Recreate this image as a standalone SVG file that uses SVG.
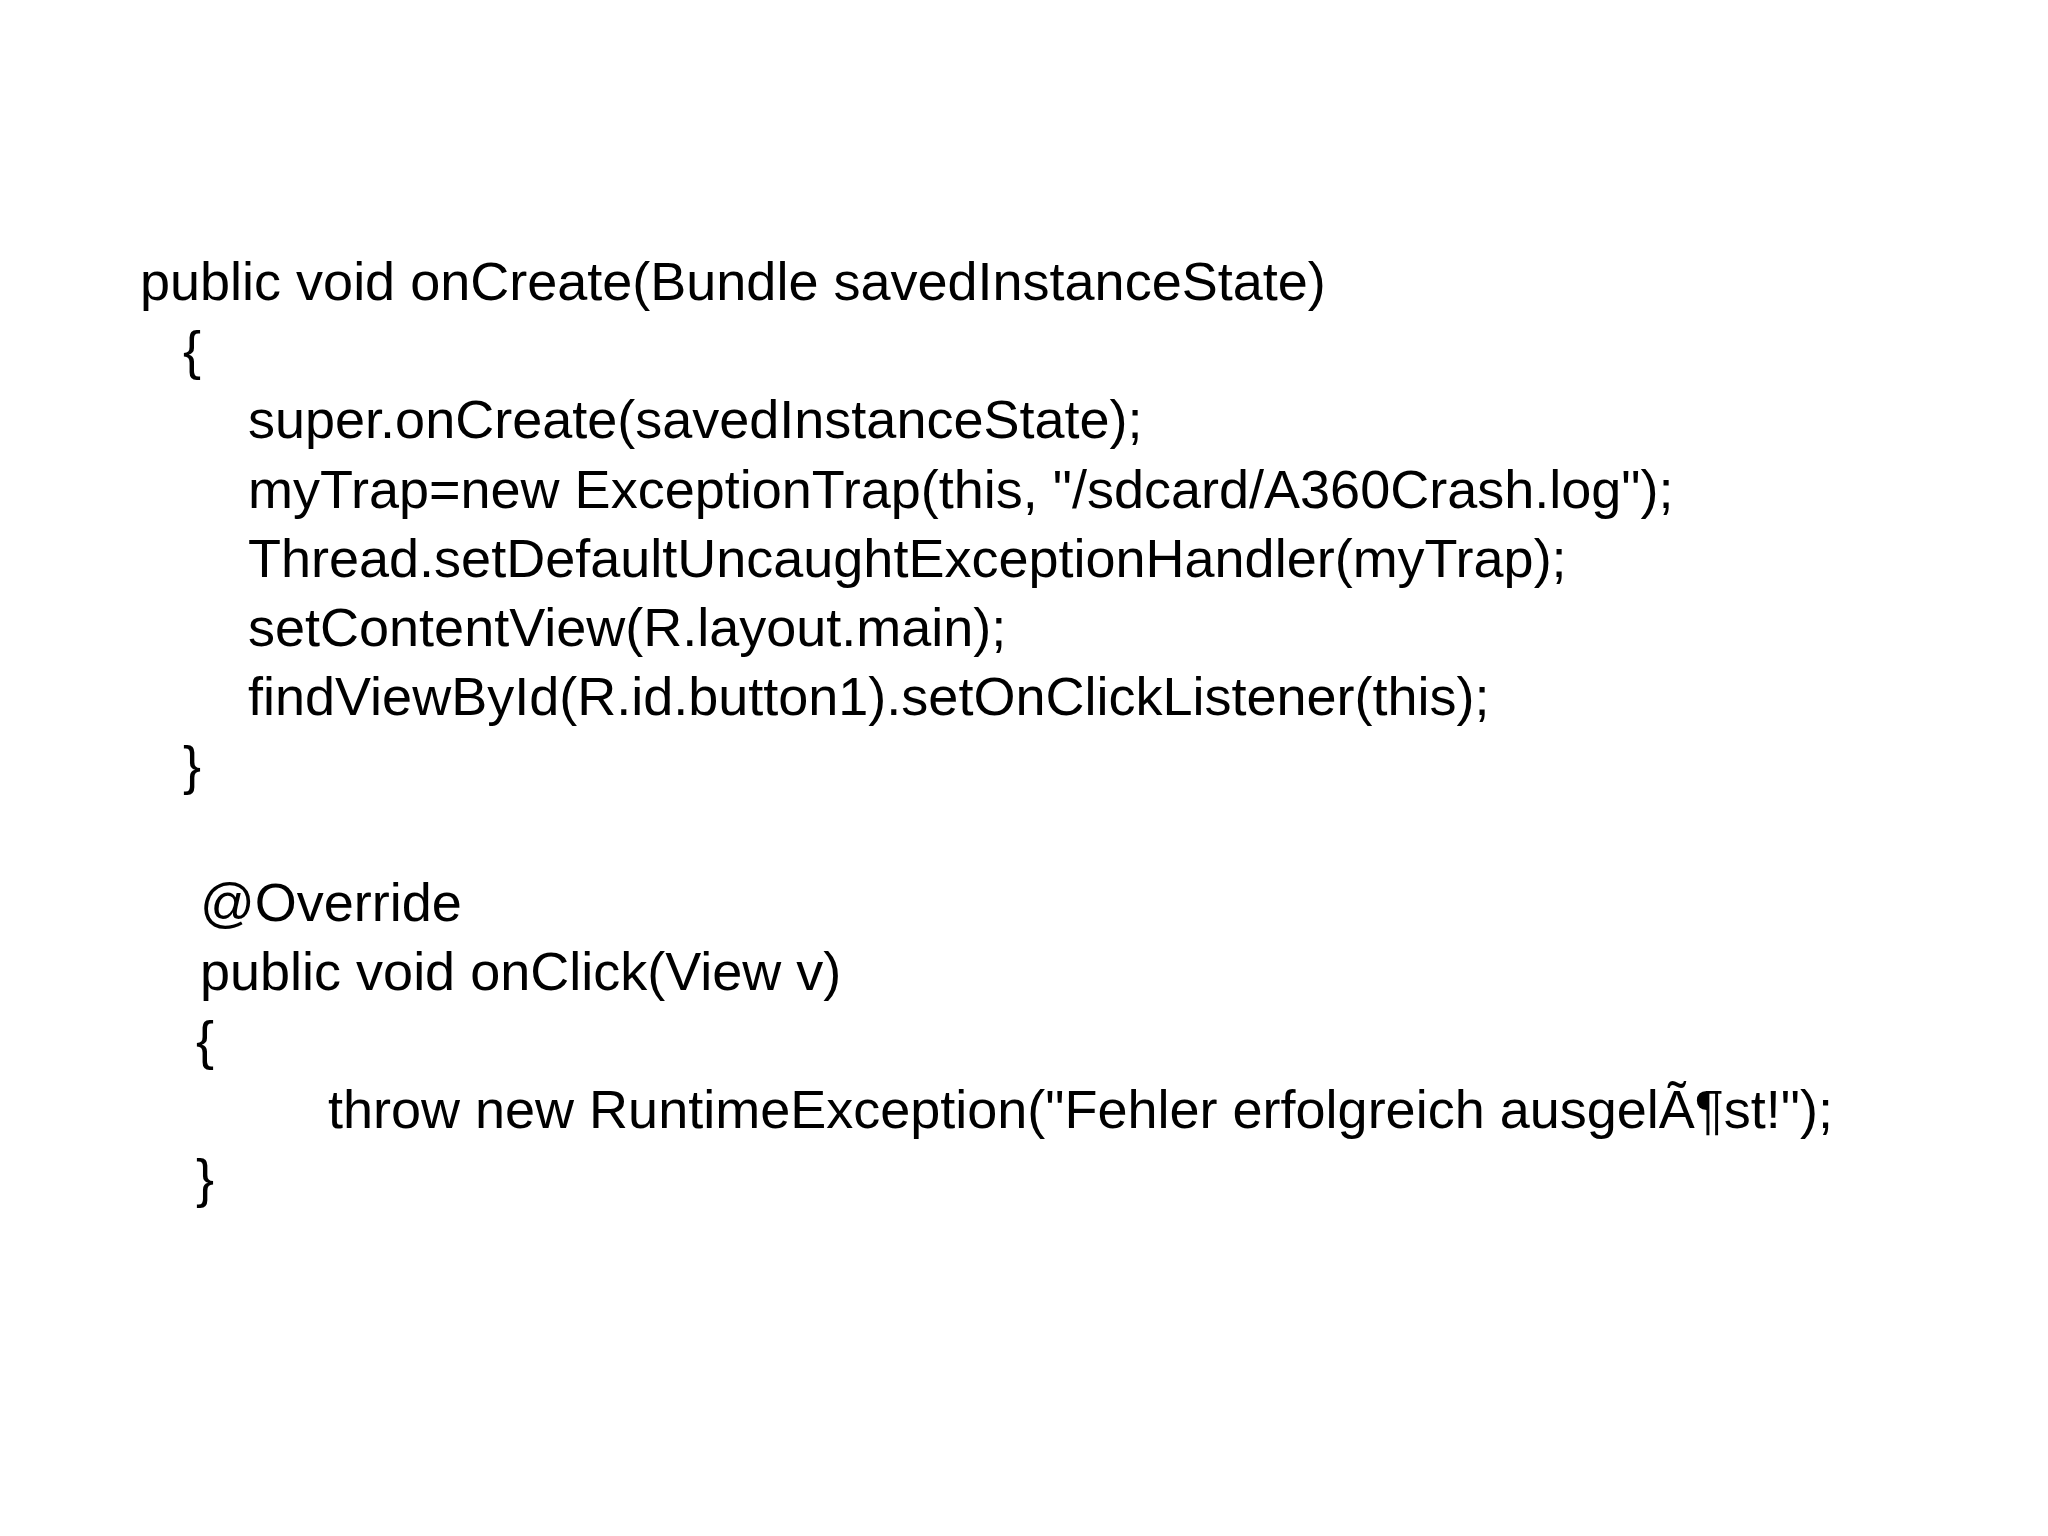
<svg xmlns="http://www.w3.org/2000/svg" width="2048" height="1536" viewBox="0 0 2048 1536">
<style>text{font-family:"Liberation Sans",Arial,sans-serif;font-size:54px;fill:#000}</style>
<rect width="2048" height="1536" fill="#fff"/>
<g id="code">
<text x="140" y="300">public void onCreate(Bundle savedInstanceState)</text>
<text x="183" y="369">{</text>
<text x="248" y="438">super.onCreate(savedInstanceState);</text>
<text x="248" y="508">myTrap=new ExceptionTrap(this, "/sdcard/A360Crash.log");</text>
<text x="248" y="577">Thread.setDefaultUncaughtExceptionHandler(myTrap);</text>
<text x="248" y="646">setContentView(R.layout.main);</text>
<text x="248" y="715">findViewById(R.id.button1).setOnClickListener(this);</text>
<text x="183" y="784">}</text>
<text x="200" y="921">@Override</text>
<text x="200" y="990">public void onClick(View v)</text>
<text x="196" y="1059">{</text>
<text x="328" y="1128">throw new RuntimeException("Fehler erfolgreich ausgelÃ¶st!");</text>
<text x="196" y="1197">}</text>
</g>
</svg>
